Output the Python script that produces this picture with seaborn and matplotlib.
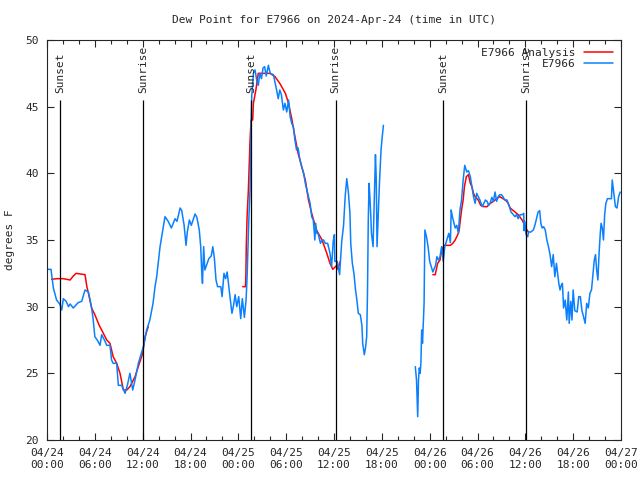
import pandas as pd
import numpy as np
import matplotlib
matplotlib.use("Agg")
import matplotlib.pyplot as plt
import matplotlib.dates as mdates
import seaborn as sns

# hours since 2024-04-24 00:00 UTC
obs_hours_1 = [0.0, 0.5, 0.8, 1.2, 1.6, 1.85, 2.05, 2.4, 2.7, 2.9, 3.3, 3.6, 3.9, 4.35, 4.77,
               5.2, 5.4, 5.6, 5.8, 6.0, 6.4, 6.65, 6.86, 7.28, 7.49, 7.9, 8.1, 8.3, 8.74, 8.95,
               9.37, 9.79, 10.08, 10.4, 10.75, 11.04, 11.46, 11.88, 12.1, 12.5, 12.9, 13.3, 13.55,
               13.76, 13.97, 14.18, 14.39, 14.6, 14.8, 15.2, 15.6, 16.06, 16.3, 16.7, 16.9, 17.2,
               17.44, 17.6, 17.86, 18.1, 18.57, 18.8, 19.1, 19.28, 19.4, 19.5, 19.65, 19.8, 20.0,
               20.3, 20.6, 20.8, 21.0, 21.2, 21.4, 21.8, 21.96, 22.2, 22.4, 22.6, 22.9, 23.2, 23.4,
               23.6, 23.8, 24.05, 24.3, 24.5, 24.76, 24.97, 25.1, 25.3, 25.47, 25.55, 25.68, 25.89,
               26.1, 26.3, 26.5, 26.7, 26.9, 27.1, 27.3, 27.5, 27.77, 28.0, 28.4, 28.8, 29.0, 29.2,
               29.4, 29.65, 29.85, 30.07, 30.3, 30.5, 30.7, 30.9, 31.1, 31.3, 31.5, 31.7, 31.95,
               32.2, 32.4, 32.6, 32.8, 33.0, 33.2, 33.4, 33.6, 33.7, 33.85, 34.0, 34.3, 34.5, 34.7,
               34.9, 35.2, 35.5, 35.7, 35.9, 36.05, 36.1, 36.4, 36.7, 36.85, 36.97, 37.2, 37.4,
               37.6, 37.8, 38.0, 38.1, 38.3, 38.5, 38.7, 38.85, 39.05, 39.3, 39.5, 39.6, 39.8,
               39.95, 40.1, 40.2, 40.3, 40.4, 40.5, 40.6, 40.7, 40.9, 41.2, 41.3, 41.4, 41.5, 41.7,
               41.9, 42.05, 42.2]
obs_dew_1 = [32.8, 32.8, 31.4, 30.5, 30.2, 29.75, 30.6, 30.4, 30.0, 30.2, 29.9, 30.1, 30.3, 30.4, 31.25,
             31.1, 30.5, 29.9, 29.0, 27.75, 27.4, 27.1, 27.9, 27.4, 27.1, 27.1, 26.0, 25.75, 25.75, 24.1,
             24.1, 23.5, 24.1, 25.0, 23.75, 24.5, 25.75, 26.6, 27.0, 28.25, 29.0, 30.25, 31.5,
             32.25, 33.4, 34.5, 35.25, 36.0, 36.75, 36.4, 35.9, 36.6, 36.4, 37.4, 37.2, 36.1,
             34.6, 35.6, 36.5, 36.1, 36.95, 36.7, 35.75, 34.5, 32.75, 31.75, 34.5, 32.75, 33.1,
             33.6, 33.8, 34.5, 33.6, 32.0, 31.5, 31.5, 30.75, 32.5, 32.1, 32.6, 31.0, 29.5, 30.1,
             30.9, 30.0, 30.75, 29.1, 30.6, 29.2, 30.5, 32.25, 36.25, 38.75, 42.0, 45.75, 47.5,
             47.75, 47.0, 46.6, 47.5, 47.1, 47.9, 48.0, 47.3, 48.1, 47.5, 47.4, 46.25, 45.6, 46.25,
             45.9, 44.75, 45.25, 44.6, 45.5, 44.25, 43.75, 43.5, 42.5, 41.75, 41.9, 41.1, 40.5,
             40.0, 39.25, 38.75, 38.25, 37.75, 36.75, 36.5, 35.0, 36.25, 35.5, 35.5, 34.75, 35.0, 35.0,
             34.75, 34.75, 34.0, 33.0, 34.9, 35.4, 33.4, 33.4, 32.4, 33.75, 34.9, 36.1, 38.25,
             39.6, 38.6, 37.0, 34.75, 33.25, 32.5, 31.25, 30.6, 29.5, 29.4, 28.6, 27.25, 26.4,
             26.9, 27.75, 31.0, 36.5, 39.25, 38.25, 37.0, 35.5, 34.5, 41.4, 39.6, 34.5, 36.1, 39.25,
             41.75, 42.75, 43.6]

obs_hours_2 = [46.2, 46.35, 46.45, 46.5, 46.6, 46.7, 46.8, 46.9, 47.0, 47.1, 47.2, 47.3, 47.4, 47.6,
               47.8, 48.0, 48.2, 48.4, 48.6, 48.75, 48.9, 49.1, 49.3, 49.5, 49.7, 49.9, 50.15, 50.4,
               50.6, 50.7, 50.85, 51.0, 51.2, 51.4, 51.6, 51.8, 52.0, 52.2, 52.4, 52.66, 52.86, 53.1,
               53.3, 53.5, 53.7, 53.9, 54.1, 54.3, 54.6, 54.8, 55.0, 55.2, 55.4, 55.6, 55.8, 56.0,
               56.2, 56.4, 56.6, 56.8, 57.0, 57.2, 57.4, 57.7, 58.0, 58.2, 58.5, 58.7, 58.9, 59.1,
               59.35, 59.6, 59.8, 59.85, 59.9, 60.1, 60.3, 60.4, 60.7, 61.0, 61.2, 61.4, 61.6, 61.8,
               61.95, 62.1, 62.3, 62.5, 62.7, 62.9, 63.1, 63.3, 63.5, 63.7, 63.9, 64.2, 64.35, 64.5,
               64.65, 64.8, 65.0, 65.2, 65.4, 65.5, 65.7, 65.85, 66.0, 66.2, 66.5, 66.7, 66.9, 67.1,
               67.3, 67.5, 67.7, 67.9, 68.1, 68.3, 68.5, 68.65, 68.8, 68.95, 69.1, 69.25, 69.4, 69.5,
               69.65, 69.8, 69.95, 70.1, 70.3, 70.6, 70.8, 70.9, 71.05, 71.3, 71.5, 71.7, 71.9]
obs_dew_2 = [25.5, 24.5, 22.75, 21.75, 24.5, 25.4, 25.0, 25.75, 28.25, 27.25, 28.75, 30.25, 35.75, 35.25,
             34.5, 33.4, 33.0, 32.6, 32.9, 33.1, 33.75, 33.5, 33.75, 34.5, 33.4, 34.5, 35.0, 35.5,
             34.8, 37.25, 36.75, 36.4, 35.9, 36.1, 35.5, 37.25, 38.0, 39.5, 40.6, 40.1, 40.2, 39.75,
             39.0, 38.25, 37.75, 38.5, 38.25, 38.0, 37.5, 37.75, 38.0, 37.9, 37.6, 37.8, 38.2, 37.9,
             38.6, 37.9, 38.25, 38.4, 38.4, 38.25, 38.0, 38.0, 37.5, 37.1, 36.9, 36.75, 36.9, 36.6,
             36.9, 36.9, 37.0, 35.7, 36.4, 35.4, 35.25, 35.6, 35.6, 35.75, 36.1, 36.6, 37.1, 37.2,
             36.25, 35.9, 36.0, 35.75, 35.0, 34.5, 33.9, 33.0, 33.9, 32.25, 33.25, 31.75, 31.25, 31.6,
             31.75, 29.9, 30.5, 29.0, 31.1, 28.75, 30.4, 29.0, 31.25, 29.7, 29.6, 30.75, 30.75, 29.7,
             29.25, 28.75, 30.25, 29.9, 31.0, 31.25, 32.5, 33.5, 33.9, 32.75, 32.0, 34.0, 35.5, 36.25,
             35.9, 35.0, 36.9, 37.75, 38.1, 38.1, 38.1, 39.5, 38.75, 37.5, 37.4, 38.25, 38.6]

ana_hours_1 = [0.58, 1.2, 2.05, 2.9, 3.3, 3.65, 4.2, 4.77, 5.0, 5.2, 5.6, 6.0, 6.55, 7.07, 7.49, 7.9,
               8.3, 8.74, 9.16, 9.58, 10.0, 10.4, 11.04, 11.67, 12.0, 12.3, 12.7]
ana_dew_1 = [32.05, 32.1, 32.1, 32.0, 32.3, 32.5, 32.45, 32.4, 31.5, 31.0, 29.9, 29.4, 28.6, 28.0, 27.5,
             27.25, 26.25, 25.75, 25.0, 23.75, 23.75, 24.0, 24.75, 25.9, 26.5, 27.75, 28.5]

ana_hours_2 = [24.55, 24.9, 24.95, 25.0, 25.1, 25.26, 25.47, 25.6, 25.8, 25.89, 26.2, 26.5, 27.1, 27.98,
               28.6, 29.2, 29.9, 30.3, 30.7, 31.1, 31.5, 31.95, 32.4, 32.8, 33.2, 33.8, 34.5, 35.1,
               35.5, 35.85, 36.35, 36.5, 36.7, 36.8]
ana_dew_2 = [31.5, 31.5, 32.5, 34.6, 36.75, 38.75, 42.5, 44.0, 44.0, 45.25, 46.25, 47.5, 47.5, 47.5,
             47.25, 46.75, 46.0, 45.25, 44.1, 42.75, 41.5, 40.5, 39.5, 38.0, 37.0, 35.75, 35.0, 34.0,
             33.25, 32.8, 33.1, 32.8, 33.25, 33.4]

ana_hours_3 = [48.4, 48.7, 49.0, 49.3, 49.4, 49.65, 49.8, 50.6, 50.9, 51.2, 51.6, 51.7, 52.0, 52.2,
               52.36, 52.6, 52.86, 53.1, 53.3, 53.5, 53.7, 54.1, 54.4, 54.8, 55.2, 55.6, 56.0, 56.4,
               56.8, 57.2, 57.5, 57.8, 58.1, 58.7, 59.1, 59.6, 60.0, 60.2, 60.4]
ana_dew_3 = [32.4, 32.4, 33.25, 33.5, 33.9, 34.4, 34.6, 34.6, 34.75, 35.0, 35.5, 35.75, 37.25, 38.0,
             39.0, 39.75, 39.9, 39.25, 39.0, 38.5, 38.25, 38.0, 37.6, 37.5, 37.5, 37.75, 37.9, 38.1,
             38.25, 38.1, 38.0, 37.8, 37.4, 37.1, 36.9, 36.5, 36.0, 35.75, 35.6]

sun_hours = [1.63, 12.05, 25.6, 36.2, 49.7, 60.1]
sun_labels = ["Sunset", "Sunrise", "Sunset", "Sunrise", "Sunset", "Sunrise"]

start = pd.Timestamp("2024-04-24 00:00")


def to_time(hours):
    return start + pd.to_timedelta(np.array(hours), unit="h")


def make_df(parts):
    frames = []
    for i, (h, v) in enumerate(parts):
        frames.append(pd.DataFrame({"time": to_time(h), "dew": v, "seg": i}))
    return pd.concat(frames, ignore_index=True)


obs = make_df([(obs_hours_1, obs_dew_1), (obs_hours_2, obs_dew_2)])
ana = make_df([(ana_hours_1, ana_dew_1), (ana_hours_2, ana_dew_2), (ana_hours_3, ana_dew_3)])

sns.set_style("ticks")
plt.rcParams['font.family'] = ['DejaVu Sans Mono']
plt.rcParams['font.size'] = 8

fig = plt.figure(figsize=(6.4, 4.8), dpi=100)
ax = fig.add_axes([47 / 640, 40 / 480, 574 / 640, 400 / 480])

sns.lineplot(data=ana, x="time", y="dew", units="seg", estimator=None, color="#ff0000",
             lw=1.1, ax=ax)
sns.lineplot(data=obs, x="time", y="dew", units="seg", estimator=None, color="#0a80ff",
             lw=1.1, ax=ax)

sun_times = to_time(sun_hours)
ax.vlines(sun_times, 20, 45.5, color="black", lw=0.9)
for t, lab in zip(sun_times, sun_labels):
    ax.text(t, 46.0, lab, rotation=90, ha="center", va="bottom", fontsize=8)

ax.set_xlim(start, start + pd.Timedelta(hours=72))
ax.set_ylim(20, 50)
ax.set_yticks(range(20, 51, 5))
ax.xaxis.set_major_locator(mdates.HourLocator(byhour=[0, 6, 12, 18]))
ax.xaxis.set_minor_locator(mdates.HourLocator(interval=2))
ax.xaxis.set_major_formatter(mdates.DateFormatter("%m/%d\n%H:%M"))
ax.tick_params(which="both", direction="in", top=True, right=True, width=0.8)
ax.tick_params(which="major", length=5, pad=6)
ax.tick_params(which="minor", length=3)
for s in ax.spines.values():
    s.set_linewidth(0.8)

ax.set_xlabel("")
ax.set_ylabel("degrees F")
ax.yaxis.set_label_coords(-0.056, 0.5)
ax.set_title("Dew Point for E7966 on 2024-Apr-24 (time in UTC)", pad=12, fontsize=8)

# one legend entry per series
handles = [ax.lines[0], ax.lines[-1]]
ax.legend(handles, ["E7966 Analysis", "E7966"], loc="upper right", frameon=False,
          markerfirst=False, handlelength=2.6, borderaxespad=0.3, labelspacing=0.1, fontsize=8)

fig.savefig("out.png", dpi=100)
